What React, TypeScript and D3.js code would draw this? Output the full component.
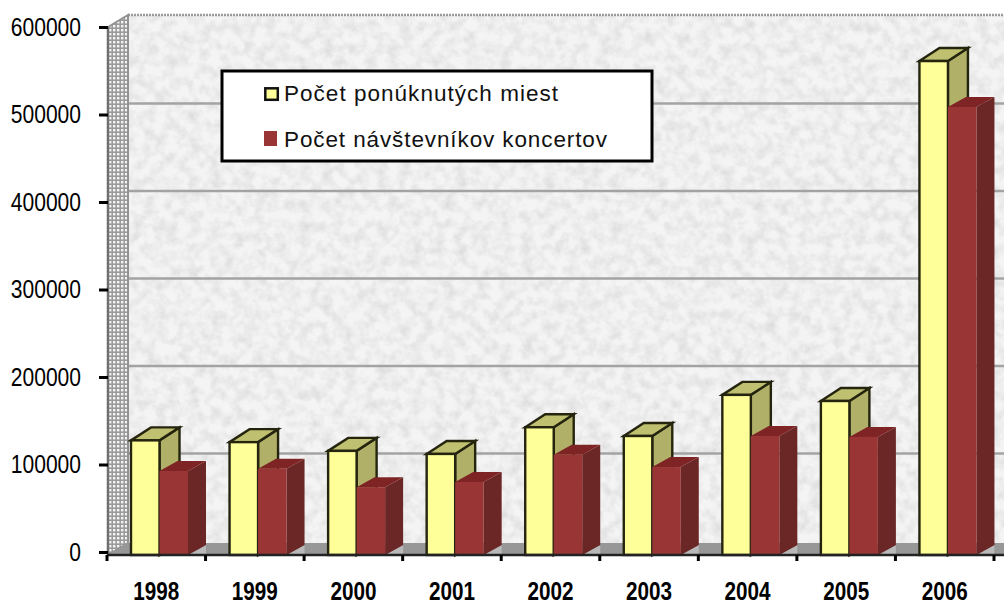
import React, { useEffect, useRef } from 'react'
import * as d3 from 'd3'

const years = ['1998', '1999', '2000', '2001', '2002', '2003', '2004', '2005', '2006']
const seats = [131000, 129000, 119000, 115500, 146000, 136000, 183000, 176000, 564500]
const visitors = [96000, 98500, 77500, 83500, 114500, 100500, 136000, 135000, 512000]
const yTicks = [0, 100000, 200000, 300000, 400000, 500000, 600000]
const gridTicks = [100000, 200000, 300000, 400000, 500000]
const seriesNames = ['Počet ponúknutých miest', 'Počet návštevníkov koncertov']

const W = 1004
const H = 604
const FONT = '"Liberation Sans", Arial, sans-serif'

const App = () => {
  const ref = useRef<SVGSVGElement>(null)

  useEffect(() => {
    const svg = d3.select(ref.current)
    svg.selectAll('*').remove()

    const x = d3.scaleBand().domain(years).range([107, 994])
    const series = d3.scaleBand().domain(['seats', 'visitors']).range([24, 81])
    const yAxisScale = d3.scaleLinear().domain([0, 600000]).range([552, 27])
    const yBar = d3.scaleLinear().domain([0, 600000]).range([555, 30])
    const back = { x: 128, top: 15, bottom: 543 }

    const defs = svg.append('defs')
    const noise = defs.append('filter').attr('id', 'noise').attr('x', 0).attr('y', 0).attr('width', 1).attr('height', 1)
    noise.append('feTurbulence').attr('type', 'fractalNoise').attr('baseFrequency', 0.09).attr('numOctaves', 4).attr('seed', 7)
    noise
      .append('feColorMatrix')
      .attr('type', 'matrix')
      .attr('values', '0 0 0 0 0.68  0 0 0 0 0.68  0 0 0 0 0.68  1.5 0 0 0 -0.55')
    noise.append('feGaussianBlur').attr('stdDeviation', 0.7)

    const dots = defs.append('pattern').attr('id', 'dots').attr('width', 4).attr('height', 4).attr('patternUnits', 'userSpaceOnUse')
    dots.append('rect').attr('width', 4).attr('height', 4).attr('fill', '#9a9a9a')
    dots.append('rect').attr('x', 1).attr('y', 1).attr('width', 2.4).attr('height', 2.4).attr('fill', '#f4f4f4')

    svg.append('rect').attr('width', W).attr('height', H).attr('fill', '#fff')

    // back wall
    svg.append('rect').attr('x', back.x).attr('y', back.top).attr('width', W - back.x).attr('height', back.bottom - back.top).attr('fill', '#f4f4f4')
    svg.append('rect').attr('x', back.x).attr('y', back.top).attr('width', W - back.x).attr('height', back.bottom - back.top).attr('filter', 'url(#noise)')
    svg.append('line').attr('x1', back.x).attr('x2', W).attr('y1', back.top).attr('y2', back.top).attr('stroke', '#9a9a9a').attr('stroke-width', 2.5).attr('stroke-dasharray', '2 1')

    // grid
    svg
      .append('g')
      .selectAll('line')
      .data(gridTicks)
      .join('line')
      .attr('x1', back.x)
      .attr('x2', W)
      .attr('y1', d => yAxisScale(d) - 11)
      .attr('y2', d => yAxisScale(d) - 11)
      .attr('stroke', '#a3a3a3')
      .attr('stroke-width', 2.5)

    // side wall and floor
    svg.append('polygon').attr('points', `108,27 ${back.x},${back.top} ${back.x},${back.bottom} 108,555`).attr('fill', 'url(#dots)').attr('stroke', '#929292').attr('stroke-width', 2)
    svg.append('polygon').attr('points', `108,555 ${back.x},${back.bottom} ${W},${back.bottom} ${W},555`).attr('fill', '#979797')

    // light shadow wedge after each red bar
    svg
      .append('g')
      .selectAll('polygon')
      .data(years)
      .join('polygon')
      .attr('points', d => {
        const l = x(d)! + series('visitors')! + series.bandwidth()
        return `${l},555 ${l + 18},545 ${l + 18},555`
      })
      .attr('fill', '#b9b9b9')

    const bars = svg.append('g')
    const bar3d = (
      values: number[],
      key: string,
      dx: number,
      dy: number,
      front: string,
      side: string,
      top: string,
      stroke: string,
      sw: number,
    ) => {
      const g = bars.append('g').selectAll('g').data(years).join('g')
      const px = (d: string) => x(d)! + series(key)!
      const w = series.bandwidth()
      const val = (i: number) => yBar(values[i])
      g.append('polygon')
        .attr('points', (d, i) => `${px(d) + w},${val(i)} ${px(d) + w + dx},${val(i) + dy} ${px(d) + w + dx},${555 + dy} ${px(d) + w},555`)
        .attr('fill', side)
        .attr('stroke', stroke)
        .attr('stroke-width', sw)
      g.append('polygon')
        .attr('points', (d, i) => `${px(d)},${val(i)} ${px(d) + dx},${val(i) + dy} ${px(d) + w + dx},${val(i) + dy} ${px(d) + w},${val(i)}`)
        .attr('fill', top)
        .attr('stroke', stroke)
        .attr('stroke-width', sw)
      g.append('rect')
        .attr('x', d => px(d))
        .attr('y', (d, i) => val(i))
        .attr('width', w)
        .attr('height', (d, i) => 555 - val(i))
        .attr('fill', front)
        .attr('stroke', stroke)
        .attr('stroke-width', sw)
    }
    bar3d(seats, 'seats', 20, -13, '#ffff99', '#b0b068', '#bfc070', '#25250f', 2.4)
    bar3d(visitors, 'visitors', 18, -10, '#993535', '#6b2626', '#7e2424', 'none', 0)

    // y axis
    const yAxis = svg
      .append('g')
      .attr('transform', 'translate(108,0)')
      .call(d3.axisLeft(yAxisScale).tickValues(yTicks).tickFormat(d3.format('d')).tickSize(9).tickPadding(18))
    yAxis.select('.domain').attr('stroke', '#6f6f6f').attr('stroke-width', 2.5).attr('d', 'M0,27V555')
    yAxis.selectAll('.tick line').attr('stroke', '#000').attr('stroke-width', 3)
    yAxis
      .selectAll('.tick text')
      .attr('fill', '#000')
      .attr('font-family', FONT)
      .attr('font-size', 25)
      .attr('lengthAdjust', 'spacingAndGlyphs')
      .attr('textLength', (d: any) => String(d).length * 11.7)

    // x axis
    const xAxis = svg
      .append('g')
      .attr('transform', 'translate(0,555)')
      .call(d3.axisBottom(x).tickSize(0).tickPadding(27))
    xAxis.select('.domain').attr('stroke', '#222').attr('stroke-width', 2.5).attr('d', `M107,0H${W}`)
    xAxis
      .selectAll('.tick text')
      .attr('fill', '#000')
      .attr('font-family', FONT)
      .attr('font-size', 25)
      .attr('font-weight', 'bold')
      .attr('lengthAdjust', 'spacingAndGlyphs')
      .attr('textLength', 46)
    xAxis
      .append('g')
      .selectAll('line')
      .data([...years, 'end'])
      .join('line')
      .attr('x1', d => (d === 'end' ? x.range()[1] : x(d)!))
      .attr('x2', d => (d === 'end' ? x.range()[1] : x(d)!))
      .attr('y1', 0)
      .attr('y2', 6)
      .attr('stroke', '#000')
      .attr('stroke-width', 3)

    // legend
    const legend = svg.append('g').attr('transform', 'translate(222,71)')
    legend.append('rect').attr('width', 430).attr('height', 90).attr('fill', '#fff').attr('stroke', '#000').attr('stroke-width', 3)
    legend.append('rect').attr('x', 43.3).attr('y', 17.3).attr('width', 12.5).attr('height', 11.5).attr('fill', '#ffff99').attr('stroke', '#111').attr('stroke-width', 2.5)
    legend.append('rect').attr('x', 42).attr('y', 60).attr('width', 13).attr('height', 15).attr('fill', '#993535')
    legend
      .selectAll('text')
      .data(seriesNames)
      .join('text')
      .attr('x', 62)
      .attr('y', (d, i) => 30 + i * 46.3)
      .attr('font-family', FONT)
      .attr('font-size', 22.5)
      .attr('fill', '#111')
      .attr('lengthAdjust', 'spacing')
      .attr('textLength', (d, i) => (i === 0 ? 274 : 323))
      .text(d => d)
  }, [])

  return <svg ref={ref} width={W} height={H} style={{ position: 'absolute', left: 0, top: 0 }} />
}

export default App
